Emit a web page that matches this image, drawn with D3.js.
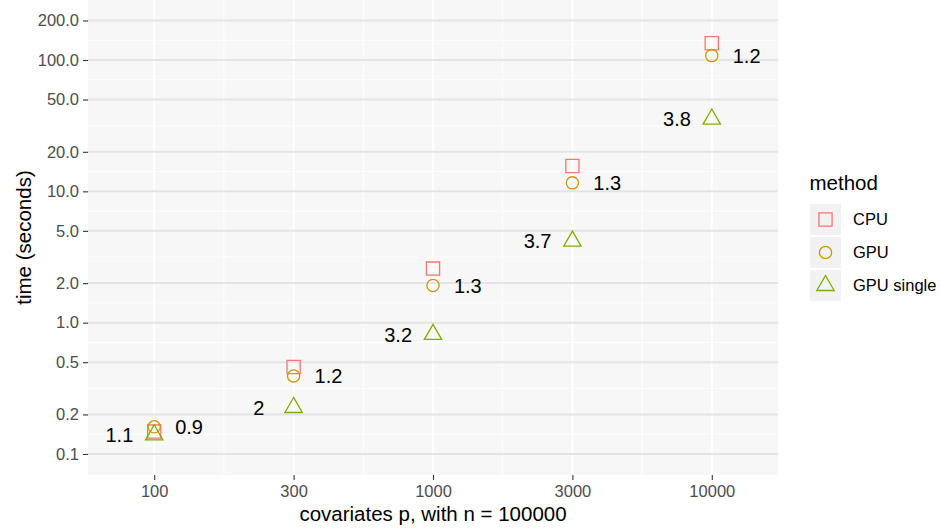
<!DOCTYPE html>
<html>
<head>
<meta charset="utf-8">
<script src="https://cdn.jsdelivr.net/npm/d3@7"></script>
<style>
  html, body { margin: 0; padding: 0; background: #ffffff; }
  svg { display: block; font-family: "Liberation Sans", Arial, Helvetica, sans-serif; }
</style>
</head>
<body>
<svg id="chart" width="940" height="529"></svg>
<script>
// Timing per method (seconds) for each number of covariates p, n = 100000
const categories = ["100", "300", "1000", "3000", "10000"];
const cpuTime = [0.148, 0.46, 2.58, 15.6, 134];
const gpuTime = [0.161, 0.393, 1.92, 11.6, 108];
const gpuSingleTime = [0.140, 0.226, 0.814, 4.18, 35.5];
const yTicks = [0.1, 0.2, 0.5, 1, 2, 5, 10, 20, 50, 100, 200];
const methods = ["CPU", "GPU", "GPU single"];

const colors = { "CPU": "#F8766D", "GPU": "#CD9600", "GPU single": "#7CAE00" };

const svg = d3.select("#chart");
const panel = { left: 88, right: 778, top: 0, bottom: 475 };

// discrete x positions, log-scaled y
const x = d3.scalePoint().domain(categories)
  .range([panel.left, panel.right]).padding(0.475);
const step = x.step();
const y = d3.scaleLog().domain([0.06917, 286.4]).range([panel.bottom, panel.top]);

// panel background
svg.append("rect")
  .attr("x", panel.left).attr("y", panel.top)
  .attr("width", panel.right - panel.left).attr("height", panel.bottom - panel.top)
  .attr("fill", "#F7F7F7");

const grid = svg.append("g");
// minor horizontal lines: log-midpoints between major breaks
for (let i = 0; i < yTicks.length - 1; i++) {
  const m = Math.sqrt(yTicks[i] * yTicks[i + 1]);
  grid.append("line")
    .attr("x1", panel.left).attr("x2", panel.right)
    .attr("y1", y(m)).attr("y2", y(m))
    .attr("stroke", "#ffffff").attr("stroke-width", 1);
}
// minor vertical lines halfway between categories
for (let i = 0; i < categories.length - 1; i++) {
  const mx = (x(categories[i]) + x(categories[i + 1])) / 2;
  grid.append("line")
    .attr("x1", mx).attr("x2", mx)
    .attr("y1", panel.top).attr("y2", panel.bottom)
    .attr("stroke", "#ffffff").attr("stroke-width", 1);
}
// major vertical lines
categories.forEach(c => {
  grid.append("line")
    .attr("x1", x(c)).attr("x2", x(c))
    .attr("y1", panel.top).attr("y2", panel.bottom)
    .attr("stroke", "#ffffff").attr("stroke-width", 2);
});
// major horizontal lines
yTicks.forEach(t => {
  grid.append("line")
    .attr("x1", panel.left).attr("x2", panel.right)
    .attr("y1", y(t)).attr("y2", y(t))
    .attr("stroke", "#E4E4E4").attr("stroke-width", 2);
});

// y axis
const yAxis = d3.axisLeft(y).tickValues(yTicks).tickFormat(d3.format(".1f"))
  .tickSize(5).tickPadding(4);
const gy = svg.append("g").attr("transform", `translate(${panel.left},0)`).call(yAxis);
gy.select(".domain").remove();
gy.selectAll(".tick line").attr("stroke", "#333333").attr("stroke-width", 1.1);
gy.selectAll(".tick text").attr("fill", "#4D4D4D").attr("font-size", 16.5)
  .attr("font-family", "Liberation Sans, Arial, sans-serif");

// x axis
const xAxis = d3.axisBottom(x).tickSize(5).tickPadding(5);
const gx = svg.append("g").attr("transform", `translate(0,${panel.bottom})`).call(xAxis);
gx.select(".domain").remove();
gx.selectAll(".tick line").attr("stroke", "#333333").attr("stroke-width", 1.1);
gx.selectAll(".tick text").attr("fill", "#4D4D4D").attr("font-size", 16.5)
  .attr("font-family", "Liberation Sans, Arial, sans-serif");

// axis titles
svg.append("text")
  .attr("x", (panel.left + panel.right) / 2).attr("y", 521)
  .attr("text-anchor", "middle").attr("font-size", 20.5).attr("fill", "#000")
  .text("covariates p, with n = 100000");
svg.append("text")
  .attr("transform", `translate(31,${(panel.top + panel.bottom) / 2}) rotate(-90)`)
  .attr("text-anchor", "middle").attr("font-size", 20.5).attr("fill", "#000")
  .text("time (seconds)");

// point shapes
const R = 6.45;
function shapePath(method) {
  if (method === "CPU") {
    const h = 6.6;
    return `M${-h},${-h}H${h}V${h}H${-h}Z`;
  }
  if (method === "GPU") {
    const r = 6.1;
    return `M${r},0A${r},${r} 0 1,1 ${-r},0A${r},${r} 0 1,1 ${r},0Z`;
  }
  const top = 1.555 * R, half = 1.347 * R, bot = 0.778 * R;
  return `M0,${-top}L${half},${bot}L${-half},${bot}Z`;
}

const series = [
  { method: "CPU", values: cpuTime },
  { method: "GPU", values: gpuTime },
  { method: "GPU single", values: gpuSingleTime }
];

const pts = svg.append("g");
series.forEach(s => {
  pts.selectAll(null).data(s.values).enter().append("path")
    .attr("transform", (d, i) => `translate(${x(categories[i])},${y(d)})`)
    .attr("d", shapePath(s.method))
    .attr("fill", "none")
    .attr("stroke", colors[s.method])
    .attr("stroke-width", 1.3);
});

// speed-up labels: CPU / GPU on the right, CPU / GPU single on the left
const fmtRatio = v => String(Math.round(v * 10) / 10);
const labels = svg.append("g").attr("font-size", 20).attr("fill", "#000")
  .attr("text-anchor", "middle");
categories.forEach((c, i) => {
  labels.append("text")
    .attr("x", x(c) + 0.25 * step).attr("y", y(gpuTime[i]))
    .attr("dy", "0.36em")
    .text(fmtRatio(cpuTime[i] / gpuTime[i]));
  labels.append("text")
    .attr("x", x(c) - 0.25 * step).attr("y", y(gpuSingleTime[i]))
    .attr("dy", "0.36em")
    .text(fmtRatio(cpuTime[i] / gpuSingleTime[i]));
});

// legend
const legend = svg.append("g");
legend.append("text")
  .attr("x", 809.5).attr("y", 190)
  .attr("font-size", 20.5).attr("fill", "#000")
  .text("method");
const keySize = 31, keyGap = 2, keyTop = 204, keyLeft = 810;
methods.forEach((m, i) => {
  const ky = keyTop + i * (keySize + keyGap);
  legend.append("rect")
    .attr("x", keyLeft).attr("y", ky)
    .attr("width", keySize).attr("height", keySize)
    .attr("fill", "#F2F2F2");
  legend.append("path")
    .attr("transform", `translate(${keyLeft + keySize / 2},${ky + keySize / 2})`)
    .attr("d", shapePath(m))
    .attr("fill", "none").attr("stroke", colors[m]).attr("stroke-width", 1.3);
  legend.append("text")
    .attr("x", 853).attr("y", ky + keySize / 2)
    .attr("dy", "0.36em")
    .attr("font-size", 16.5).attr("fill", "#000")
    .text(m);
});
</script>
</body>
</html>
